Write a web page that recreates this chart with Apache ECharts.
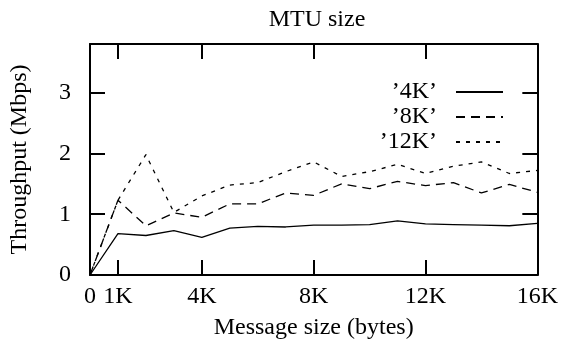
<!DOCTYPE html>
<html>
<head>
<meta charset="utf-8">
<script src="https://cdn.jsdelivr.net/npm/echarts@6/dist/echarts.min.js"></script>
<style>
  html, body { margin: 0; padding: 0; background: #fff; }
  #chart { width: 561px; height: 345px; }
</style>
</head>
<body>
<div id="chart"></div>
<script>
// message size in K bytes
const msgSizes = [0, 1, 2, 3, 4, 5, 6, 7, 8, 9, 10, 11, 12, 13, 14, 15, 16];
const mtu4K  = [0, 0.68, 0.65, 0.73, 0.62, 0.77, 0.80, 0.79, 0.82, 0.82, 0.83, 0.89, 0.84, 0.83, 0.82, 0.81, 0.85];
const mtu8K  = [0, 1.23, 0.81, 1.02, 0.95, 1.17, 1.17, 1.35, 1.31, 1.50, 1.42, 1.54, 1.47, 1.52, 1.35, 1.49, 1.36];
const mtu12K = [0, 1.23, 1.98, 1.03, 1.30, 1.48, 1.52, 1.70, 1.86, 1.62, 1.70, 1.82, 1.67, 1.79, 1.86, 1.67, 1.72];
const xTicks = [0, 1, 4, 8, 12, 16];
const yTicks = [0, 1, 2, 3];

const font = 'Liberation Serif';
const chart = echarts.init(document.getElementById('chart'));

const pairs = (ys) => msgSizes.map((x, i) => [x, ys[i]]);

const frameLine = { show: true, onZero: false, lineStyle: { color: '#000', width: 2 } };
const innerTick = (vals) => ({ show: true, inside: true, length: 15, customValues: vals, lineStyle: { color: '#000', width: 2 } });

function lineSeries(name, data, dash) {
  return {
    name: name,
    type: 'line',
    data: pairs(data),
    symbol: 'none',
    showSymbol: false,
    animation: false,
    lineStyle: { color: '#000', width: 1.3, type: dash },
    itemStyle: { color: '#000' }
  };
}

chart.setOption({
  animation: false,
  title: {
    text: 'MTU size',
    left: 312, textAlign: 'center', top: 3,
    textStyle: { fontFamily: font, fontSize: 24, fontWeight: 'normal', color: '#000' }
  },
  grid: { left: 87, right: 23, top: 44, bottom: 69 },
  legend: {
    orient: 'vertical',
    right: 52, top: 75,
    align: 'right',
    itemWidth: 47, itemHeight: 24, itemGap: 1,
    itemStyle: { opacity: 0 },
    textStyle: { fontFamily: font, fontSize: 24, color: '#000', lineHeight: 24, padding: [0, 14, 0, 0] },
    data: ['’4K’', '’8K’', '’12K’']
  },
  xAxis: [{
    type: 'value', min: 0, max: 16,
    name: 'Message size (bytes)', nameLocation: 'middle', nameGap: 41,
    nameTextStyle: { fontFamily: font, fontSize: 24, color: '#000' },
    axisLine: frameLine,
    axisTick: innerTick(xTicks),
    axisLabel: {
      customValues: xTicks, margin: 10,
      fontFamily: font, fontSize: 24, color: '#000',
      formatter: (v) => v === 0 ? '0' : v + 'K'
    },
    splitLine: { show: false }
  }, {
    type: 'value', min: 0, max: 16, position: 'top',
    axisLine: frameLine,
    axisTick: innerTick(xTicks),
    axisLabel: { show: false },
    splitLine: { show: false }
  }],
  yAxis: [{
    type: 'value', min: 0, max: 3.8,
    name: 'Throughput (Mbps)', nameLocation: 'middle', nameGap: 58, nameRotate: 90,
    nameTextStyle: { fontFamily: font, fontSize: 24, color: '#000' },
    axisLine: frameLine,
    axisTick: innerTick(yTicks),
    axisLabel: { customValues: yTicks, margin: 19, fontFamily: font, fontSize: 24, color: '#000' },
    splitLine: { show: false }
  }, {
    type: 'value', min: 0, max: 3.8, position: 'right',
    axisLine: frameLine,
    axisTick: innerTick(yTicks),
    axisLabel: { show: false },
    splitLine: { show: false }
  }],
  series: [
    lineSeries('’4K’', mtu4K, 'solid'),
    lineSeries('’8K’', mtu8K, [9, 6]),
    lineSeries('’12K’', mtu12K, [4, 6])
  ]
});
</script>
</body>
</html>
